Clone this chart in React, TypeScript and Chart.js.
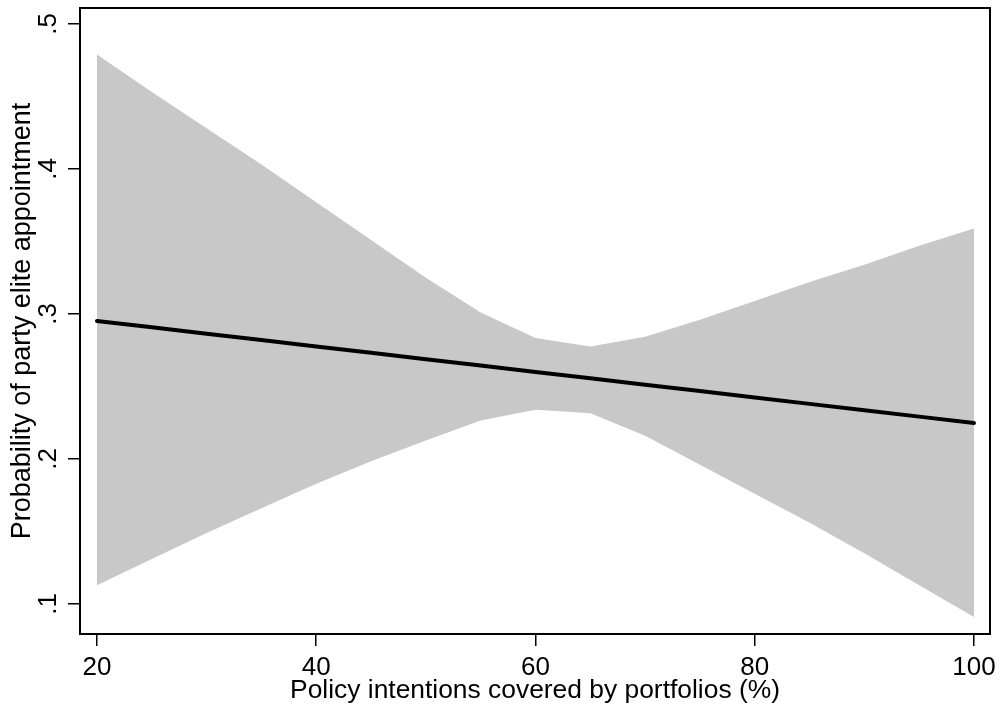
import React, { useEffect, useRef } from "react";
import { Chart, registerables } from "chart.js";

Chart.register(...registerables);

// Share of policy intentions covered by portfolios (%), evaluated every 5 points
const policyCoverage = [20, 25, 30, 35, 40, 45, 50, 55, 60, 65, 70, 75, 80, 85, 90, 95, 100];

// Predicted probability of a party elite appointment
const predictedProb = [
  0.2952, 0.2908, 0.2864, 0.282, 0.2776, 0.2732, 0.2688, 0.2644, 0.26,
  0.2556, 0.2512, 0.2468, 0.2424, 0.238, 0.2336, 0.2292, 0.2248,
];

// 95% confidence interval bounds
const lowerBound = [
  0.113, 0.131, 0.149, 0.166, 0.183, 0.1985, 0.2128, 0.2265, 0.234,
  0.2315, 0.216, 0.196, 0.176, 0.156, 0.135, 0.113, 0.091,
];
const upperBound = [
  0.479, 0.453, 0.428, 0.403, 0.377, 0.351, 0.325, 0.301, 0.2834,
  0.2775, 0.2843, 0.296, 0.309, 0.322, 0.334, 0.347, 0.359,
];

const xTickValues = [20, 40, 60, 80, 100];
const yTickValues = [0.1, 0.2, 0.3, 0.4, 0.5];
const yTickLabels = [".1", ".2", ".3", ".4", ".5"];

const xTitle = "Policy intentions covered by portfolios (%)";
const yTitle = "Probability of party elite appointment";

const FONT_FAMILY = "'Liberation Sans', Arial, Helvetica, sans-serif";
const BAND_COLOR = "rgb(200, 200, 200)";

const toPoints = (ys: number[]) => policyCoverage.map((x, i) => ({ x, y: ys[i] }));

// Closed box around the plotting region
const frameBox = {
  id: "frameBox",
  afterDraw(chart: any) {
    const { ctx, chartArea } = chart;
    ctx.save();
    ctx.strokeStyle = "#000";
    ctx.lineWidth = 2;
    ctx.strokeRect(
      chartArea.left,
      chartArea.top,
      chartArea.right - chartArea.left,
      chartArea.bottom - chartArea.top
    );
    ctx.restore();
  },
};

export default function App() {
  const canvasRef = useRef<HTMLCanvasElement | null>(null);

  useEffect(() => {
    if (!canvasRef.current) return;
    const tickFont = { family: FONT_FAMILY, size: 26 };
    const chart = new Chart(canvasRef.current, {
      type: "line",
      data: {
        datasets: [
          {
            label: "Predicted probability",
            data: toPoints(predictedProb),
            borderColor: "#000",
            borderWidth: 4,
            pointRadius: 0,
            fill: false,
            order: 0,
            borderCapStyle: "round",
          },
          {
            label: "Lower bound",
            data: toPoints(lowerBound),
            borderWidth: 0,
            borderColor: "rgba(0,0,0,0)",
            pointRadius: 0,
            fill: false,
            order: 1,
          },
          {
            label: "Upper bound",
            data: toPoints(upperBound),
            borderWidth: 0,
            borderColor: "rgba(0,0,0,0)",
            backgroundColor: BAND_COLOR,
            pointRadius: 0,
            fill: "-1",
            order: 2,
          },
        ],
      },
      options: {
        responsive: false,
        animation: false,
        devicePixelRatio: 1,
        layout: { padding: { top: 8, right: 11, left: 0, bottom: 0 } },
        elements: { line: { tension: 0 } },
        plugins: {
          legend: { display: false },
          tooltip: { enabled: false },
        },
        scales: {
          x: {
            type: "linear",
            min: 18.45,
            max: 101.46,
            afterBuildTicks: (scale: any) => {
              scale.ticks = xTickValues.map((value) => ({ value }));
            },
            afterFit: (scale: any) => {
              scale.height = 76;
              scale.paddingLeft = 0;
              scale.paddingRight = 0;
            },
            ticks: {
              font: tickFont,
              color: "#000",
              padding: 6,
              maxRotation: 0,
              autoSkip: false,
              callback: (value: any) => String(value),
            },
            grid: {
              display: true,
              drawOnChartArea: false,
              drawTicks: true,
              tickLength: 12,
              color: "#000",
              lineWidth: 1.5,
            },
            border: { display: false },
            title: {
              display: true,
              text: xTitle,
              color: "#000",
              font: { family: FONT_FAMILY, size: 26.4 },
              padding: { top: 0, bottom: 3 },
            },
          },
          y: {
            type: "linear",
            min: 0.0793,
            max: 0.511,
            afterBuildTicks: (scale: any) => {
              scale.ticks = yTickValues.map((value) => ({ value }));
            },
            afterFit: (scale: any) => {
              scale.width = 80;
              scale.paddingTop = 0;
              scale.paddingBottom = 0;
            },
            ticks: {
              font: tickFont,
              color: "#000",
              padding: 8,
              minRotation: 90,
              maxRotation: 90,
              crossAlign: "center",
              autoSkip: false,
              callback: (value: any) => {
                const idx = yTickValues.findIndex((v) => Math.abs(v - value) < 1e-9);
                return idx >= 0 ? yTickLabels[idx] : "";
              },
            },
            grid: {
              display: true,
              drawOnChartArea: false,
              drawTicks: true,
              tickLength: 12,
              color: "#000",
              lineWidth: 1.5,
            },
            border: { display: false },
            title: {
              display: true,
              text: yTitle,
              color: "#000",
              font: { family: FONT_FAMILY, size: 27 },
              padding: { top: 6, bottom: 0 },
            },
          },
        },
      },
      plugins: [frameBox],
    } as any);
    return () => chart.destroy();
  }, []);

  return (
    <div style={{ position: "absolute", left: 0, top: 0, width: 1001, height: 710, background: "#fff" }}>
      <canvas ref={canvasRef} width={1001} height={710} />
    </div>
  );
}
